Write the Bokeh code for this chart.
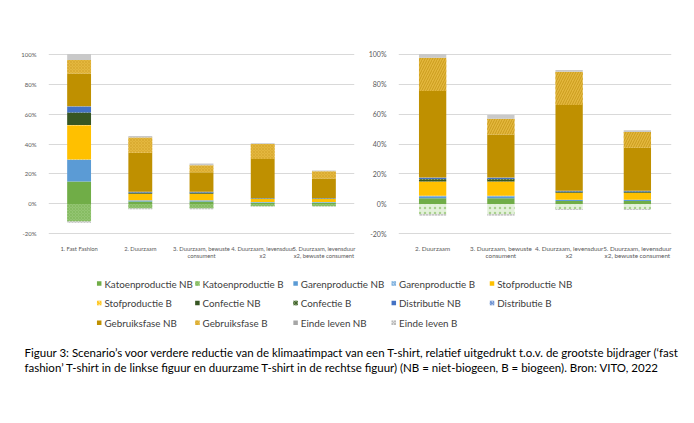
from bokeh.plotting import figure
from bokeh.layouts import column, row
from bokeh.models import Range1d, FactorRange, FixedTicker
from bokeh.core.properties import value
from bokeh.embed import file_html
from bokeh.resources import INLINE

# ---------------- data ----------------
series = ["Katoenproductie NB", "Katoenproductie B", "Garenproductie NB", "Garenproductie B",
          "Stofproductie NB", "Stofproductie B", "Confectie NB", "Confectie B",
          "Distributie NB", "Distributie B", "Gebruiksfase NB", "Gebruiksfase B",
          "Einde leven NB", "Einde leven B"]

left_cats = ["1. Fast Fashion", "2. Duurzaam", "3. Duurzaam, bewuste\nconsument",
             "4. Duurzaam, levensduur\nx2", "5. Duurzaam, levensduur\nx2, bewuste consument"]
right_cats = ["2. Duurzaam", "3. Duurzaam, bewuste\nconsument",
              "4. Duurzaam, levensduur\nx2", "5. Duurzaam, levensduur\nx2, bewuste consument"]

y_ticks = [-20, 0, 20, 40, 60, 80, 100]

# left chart (relative to fast fashion), %
katoen_nb_l = [15.0, 1.7, 1.7, 0.85, 0.85]
katoen_b_l = [-11.8, -3.1, -3.1, -1.55, -1.55]
garen_nb_l = [14.3, 0.6, 0.6, 0.3, 0.3]
garen_b_l = [0.3, 0.2, 0.2, 0.1, 0.1]
stof_nb_l = [22.8, 4.2, 4.2, 2.1, 2.1]
stof_b_l = [0.3, 0.15, 0.15, 0.07, 0.07]
confectie_nb_l = [8.0, 0.55, 0.55, 0.27, 0.27]
confectie_b_l = [0.3, 0.2, 0.2, 0.1, 0.1]
distributie_nb_l = [4.0, 0.4, 0.4, 0.2, 0.2]
distributie_b_l = [0.2, 0.1, 0.1, 0.05, 0.05]
gebruik_nb_l = [21.8, 26.1, 13.0, 25.9, 13.0]
gebruik_b_l = [9.0, 10.1, 4.8, 10.0, 4.8]
einde_nb_l = [4.0, 1.1, 1.1, 0.55, 0.55]
einde_b_l = [-0.8, -0.4, -0.4, -0.2, -0.2]

# right chart (relative to duurzaam), %
katoen_nb_r = [3.8, 3.8, 1.9, 1.9]
katoen_b_r = [-6.9, -6.9, -3.45, -3.45]
garen_nb_r = [1.3, 1.3, 0.65, 0.65]
garen_b_r = [0.4, 0.4, 0.2, 0.2]
stof_nb_r = [9.2, 9.2, 4.6, 4.6]
stof_b_r = [0.3, 0.3, 0.15, 0.15]
confectie_nb_r = [1.2, 1.2, 0.6, 0.6]
confectie_b_r = [0.4, 0.4, 0.2, 0.2]
distributie_nb_r = [0.9, 0.9, 0.45, 0.45]
distributie_b_r = [0.2, 0.2, 0.1, 0.1]
gebruik_nb_r = [57.6, 28.6, 57.2, 28.6]
gebruik_b_r = [22.3, 10.5, 22.2, 10.5]
einde_nb_r = [2.4, 2.5, 1.2, 1.2]
einde_b_r = [-0.9, -0.9, -0.45, -0.45]

left_data = [katoen_nb_l, katoen_b_l, garen_nb_l, garen_b_l, stof_nb_l, stof_b_l,
             confectie_nb_l, confectie_b_l, distributie_nb_l, distributie_b_l,
             gebruik_nb_l, gebruik_b_l, einde_nb_l, einde_b_l]
right_data = [katoen_nb_r, katoen_b_r, garen_nb_r, garen_b_r, stof_nb_r, stof_b_r,
              confectie_nb_r, confectie_b_r, distributie_nb_r, distributie_b_r,
              gebruik_nb_r, gebruik_b_r, einde_nb_r, einde_b_r]

caption_lines = [
    "Figuur 3: Scenario\u2019s voor verdere reductie van de klimaatimpact van een T-shirt, relatief uitgedrukt t.o.v. de grootste bijdrager (\u2018fast",
    "fashion\u2019 T-shirt in de linkse figuur en duurzame T-shirt in de rechtse figuur) (NB = niet-biogeen, B = biogeen). Bron: VITO, 2022",
]

# ---------------- styles ----------------
def st(fill, hatch=None, hcolor=None, scale=4, weight=1.0, alpha=1.0):
    return dict(fill_color=fill, hatch_pattern=hatch, hatch_color=hcolor or fill,
                hatch_scale=scale, hatch_weight=weight, hatch_alpha=alpha)

left_styles = [
    st("#70AD47"),
    st("#93C572", "x", "#7DB558", 3, 0.6),
    st("#5B9BD5"),
    st("#BDD7EE", "/", "#5B9BD5", 3, 0.8),
    st("#FFC000"),
    st("#FFE08A", "/", "#FFC000", 3, 1.0),
    st("#375623"),
    st("#6F8F5A", "x", "#375623", 3, 0.8),
    st("#4472C4"),
    st("#B4C7E7", "/", "#4472C4", 3, 0.8),
    st("#BF9000"),
    st("#E4B73E", "x", "#D3A52A", 3, 0.6),
    st("#C9C9C9"),
    st("#D9D9D9", "x", "#A5A5A5", 3, 0.6),
]
right_styles = list(left_styles)
right_styles[1] = st("#E4F1DB", ".", "#A9D18E", 5, 1.0)
right_styles[11] = st("#E4B73E", "/", "#C99C1C", 5, 1.0)

legend_styles = list(left_styles)
legend_styles[12] = st("#A6A6A6")

FONT = "Lato"


def make_chart(cats, data, styles, width, border_left, border_right, tick_fs, cat_fs, bar_w):
    p = figure(x_range=FactorRange(*cats), y_range=Range1d(-20.4, 100.4),
               width=width, height=262, output_backend="svg", toolbar_location=None,
               min_border_left=border_left, min_border_right=border_right,
               min_border_top=53, min_border_bottom=28)
    n = len(cats)
    pos = [0.0] * n
    neg = [0.0] * n
    for vals, sty in zip(data, styles):
        bottoms, tops = [], []
        for i, v in enumerate(vals):
            if v >= 0:
                bottoms.append(pos[i]); tops.append(pos[i] + v); pos[i] += v
            else:
                bottoms.append(neg[i] + v); tops.append(neg[i]); neg[i] += v
        p.vbar(x=cats, bottom=bottoms, top=tops, width=bar_w, line_color=None, **sty)
    p.outline_line_color = None
    p.xgrid.grid_line_color = None
    p.ygrid.ticker = FixedTicker(ticks=y_ticks)
    p.ygrid.grid_line_color = "#D9D9D9"
    p.ygrid.grid_line_width = 1
    p.yaxis.ticker = FixedTicker(ticks=y_ticks)
    p.yaxis.major_label_overrides = {t: f"{t}%" for t in y_ticks}
    for ax in (p.xaxis, p.yaxis):
        ax.axis_line_color = None
        ax.major_tick_line_color = None
        ax.minor_tick_line_color = None
        ax.major_label_text_color = "#595959"
        ax.major_label_text_font = FONT
    p.yaxis.major_label_text_font_size = tick_fs
    p.yaxis.major_label_standoff = 6
    p.xaxis.major_label_text_font_size = cat_fs
    p.xaxis.major_label_standoff = 4
    p.xaxis.major_label_text_line_height = 1.1
    return p


p_left = make_chart(left_cats, left_data, left_styles, 362, 48, 8, "6px", "5.8px", 0.39)
p_right = make_chart(right_cats, right_data, right_styles, 332, 36, 23, "7px", "6.3px", 0.40)

# ---------------- legend + caption (page-pixel coordinates) ----------------
pb = figure(x_range=Range1d(0, 694), y_range=Range1d(423, 262), width=694, height=161,
            output_backend="svg", toolbar_location=None, min_border=0)
pb.axis.visible = False
pb.grid.visible = False
pb.outline_line_color = None

col_x0, col_dx = 98.7, 98.2
row_y0, row_dy = 283, 19.6
for k, (name, sty) in enumerate(zip(series, legend_styles)):
    r, c = divmod(k, 5)
    sx = col_x0 + c * col_dx
    sy = row_y0 + r * row_dy
    pb.rect(x=[sx], y=[sy], width=4.5, height=4.5, line_color=None, **sty)
    pb.text(x=[sx + 5.2], y=[sy], text=[name], text_font=value(FONT), text_font_size="9.8px",
            text_baseline="middle", text_align="left", text_color="#404040")

for j, line in enumerate(caption_lines):
    pb.text(x=[24], y=[352 + j * 15], text=[line], text_font=value(FONT), text_font_size="11.5px",
            text_baseline="middle", text_align="left", text_color="#000000")

layout = column(row(p_left, p_right), pb)
open("out.html", "w").write(file_html(layout, INLINE))
